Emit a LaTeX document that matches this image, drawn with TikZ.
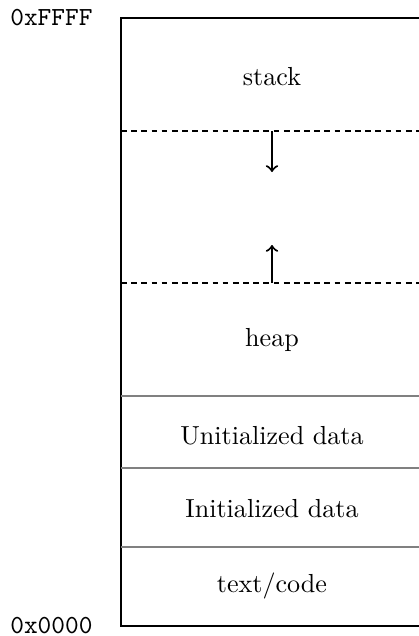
\documentclass[tikz,border=0pt]{standalone}
\usepackage{amsmath}
\usepackage{tikz}
\usetikzlibrary{positioning}

\begin{document}
\begin{tikzpicture}[x=0.01348cm,y=-0.01348cm]
        \useasboundingbox (0,0) rectangle (419,636);
        \tikzset{SegStyle/.style={inner sep=0pt},
        AddrStyle/.style={font=\ttfamily,anchor=east,inner sep=0pt},
        GrowStyle/.style={->,thick},
        EdgeDash/.style={dash pattern=on 2.2pt off 1.7pt}}
        % outline of the memory
        \draw[semithick] (425,18) -- (121,18) -- (121,626) -- (425,626);
        \coordinate (top) at (121,18);
        \coordinate (bot) at (121,626);
        \node[AddrStyle] (hi) at (93,18) {0xFFFF};
        \node[AddrStyle] (lo) at (93,626) {0x0000};
        % boundaries
        \draw[EdgeDash] (121,131) -- (425,131);
        \draw[EdgeDash] (121,283) -- (425,283);
        \draw[gray] (121,396) -- (425,396);
        \draw[gray] (121,468) -- (425,468);
        \draw[gray] (121,547) -- (425,547);
        \node[SegStyle] (stack) at (272,77) {stack};
        \node[SegStyle] (heap) at (272,340) {heap};
        \node[SegStyle] (bss) at (272,436) {Unitialized data};
        \node[SegStyle] (data) at (272,509) {Initialized data};
        \node[SegStyle] (code) at (272,586) {text/code};
        \coordinate (sTop) at (272,131); \coordinate (sEnd) at (272,172);
        \coordinate (hTop) at (272,283); \coordinate (hEnd) at (272,245);
        \draw[GrowStyle] (sTop) -- (sEnd);
        \draw[GrowStyle] (hTop) -- (hEnd);
    \end{tikzpicture}
\end{document}
